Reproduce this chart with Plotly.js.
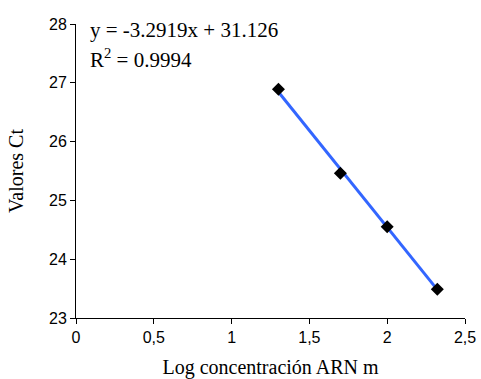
<!DOCTYPE html>
<html>
<head>
<meta charset="utf-8">
<script src="https://cdn.plot.ly/plotly-3.0.1.min.js"></script>
<style>html,body{margin:0;padding:0;background:#fff;}#chart{width:481px;height:379px;}</style>
</head>
<body>
<div id="chart"></div>
<script>
const logConc = [1.301, 1.699, 2.0, 2.322];
const ctValues = [26.89, 25.46, 24.55, 23.49];
const slope = -3.2919;
const intercept = 31.126;
const r2 = 0.9994;
const xTickVals = [0, 0.5, 1, 1.5, 2, 2.5];
const xTickText = ['0', '0,5', '1', '1,5', '2', '2,5'];
const yTickVals = [23, 24, 25, 26, 27, 28];

const trendX = [Math.min(...logConc), Math.max(...logConc)];
const trendY = trendX.map(x => slope * x + intercept);

const serif = 'Liberation Serif, Times New Roman, serif';
const sans = 'Liberation Sans, Arial, sans-serif';

const data = [
  {x: trendX, y: trendY, mode: 'lines', type: 'scatter',
   line: {color: '#3366FF', width: 3}, hoverinfo: 'skip'},
  {x: logConc, y: ctValues, mode: 'markers', type: 'scatter',
   marker: {symbol: 'diamond', color: '#000', size: 10}}
];

const layout = {
  width: 481, height: 379,
  margin: {l: 76, r: 16, t: 24, b: 61},
  paper_bgcolor: '#fff', plot_bgcolor: '#fff',
  showlegend: false,
  xaxis: {
    range: [0, 2.5], tickvals: xTickVals, ticktext: xTickText,
    showgrid: false, zeroline: false, showline: true, linecolor: '#000', linewidth: 1,
    ticks: 'outside', ticklen: 5, tickcolor: '#000',
    tickfont: {family: sans, size: 16, color: '#000'},
    title: {text: 'Log concentración ARN m', font: {family: serif, size: 20, color: '#000'}, standoff: 16}
  },
  yaxis: {
    range: [23, 28], tickvals: yTickVals,
    showgrid: false, zeroline: false, showline: true, linecolor: '#000', linewidth: 1,
    ticks: 'outside', ticklen: 5, tickcolor: '#000',
    tickfont: {family: sans, size: 16, color: '#000'},
    title: {text: 'Valores Ct', font: {family: serif, size: 20, color: '#000'}, standoff: 20}
  },
  annotations: [
    {xref: 'paper', yref: 'paper', x: 0.031, y: 0.978, xanchor: 'left', yanchor: 'middle',
     text: 'y = ' + slope + 'x + ' + intercept, showarrow: false,
     font: {family: serif, size: 21, color: '#000'}},
    {xref: 'paper', yref: 'paper', x: 0.031, y: 0.882, xanchor: 'left', yanchor: 'middle',
     text: 'R<sup>2</sup> = ' + r2, showarrow: false,
     font: {family: serif, size: 21, color: '#000'}}
  ]
};

Plotly.newPlot('chart', data, layout, {displayModeBar: false, staticPlot: true});
</script>
</body>
</html>
